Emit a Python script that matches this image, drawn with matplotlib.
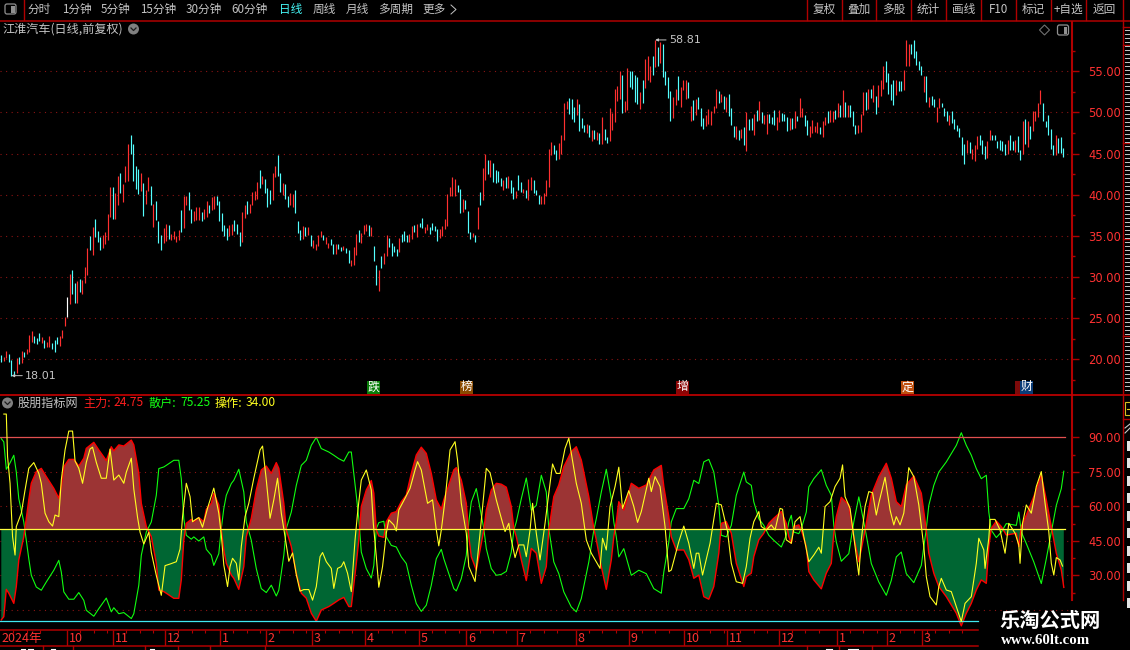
import matplotlib
matplotlib.use("Agg")
import matplotlib.pyplot as plt
from matplotlib.patches import Rectangle, Circle, Polygon, FancyBboxPatch

plt.rcParams['font.family'] = ['Noto Sans CJK SC', 'DejaVu Sans']

W, H = 1130, 650

# --- daily bars (high / low / direction: r up, c down, w flat) ---
bar_high = [
    20.5,20.3,21.0,20.6,19.9,18.6,20.1,20.3,21.0,20.9, 21.2,23.0,23.4,22.8,22.6,23.2,22.7,22.4,22.1,22.8,
    22.0,22.3,22.7,22.8,23.5,25.1,27.6,30.4,30.9,29.3, 29.5,29.7,29.6,31.2,33.5,35.0,36.1,37.1,35.6,34.9,
    35.1,35.5,37.7,40.9,40.9,40.2,42.3,42.6,41.3,43.5, 46.2,47.2,46.2,43.5,43.1,42.6,41.4,40.6,42.1,41.1,
    38.9,39.2,36.8,35.1,36.0,36.5,36.3,35.2,35.6,35.0, 35.7,38.1,39.8,39.8,40.3,38.3,38.0,38.5,38.5,37.9,
    38.3,39.2,38.7,39.7,39.9,39.8,39.2,37.8,36.3,36.0, 36.3,36.5,36.9,36.4,35.5,37.9,38.7,39.2,38.9,40.3,
    40.4,41.5,43.0,42.3,41.9,40.8,40.6,42.6,43.5,44.8, 42.6,41.4,41.3,39.9,40.2,40.1,40.6,36.8,35.7,36.2,
    36.1,36.1,35.1,34.5,34.0,35.1,35.6,35.1,34.9,34.1, 34.6,34.0,34.0,34.0,33.6,33.8,33.5,33.3,32.1,33.6,
    35.2,35.7,35.4,36.3,36.5,36.3,36.1,33.8,31.5,30.9,
    32.6,32.9,35.1,34.7,34.1,33.8,33.4,34.7,35.2,35.6, 35.1,35.2,36.2,36.3,36.5,36.6,37.2,36.1,36.4,36.1,
    36.6,36.2,35.8,35.8,36.2,37.1,40.1,40.9,42.1,41.9, 41.2,40.7,39.5,39.4,38.0,35.5,35.3,35.1,38.5,40.3,
    43.2,45.0,44.2,44.2,43.8,43.0,42.9,42.0,41.8,42.1, 42.3,41.8,40.9,40.4,42.4,41.5,40.7,40.6,41.9,42.1,
    41.8,40.6,40.0,39.8,40.2,41.8,45.5,46.4,46.0,45.4, 46.3,47.2,51.1,51.4,51.7,51.6,50.6,51.6,51.0,49.3,
    48.5,48.6,48.5,47.9,47.9,47.6,47.5,49.4,48.0,47.0, 50.5,49.9,52.9,53.2,55.0,54.5,51.4,55.4,55.0,55.0,
    54.5,54.3,52.5,53.9,56.5,56.8,55.6,56.8,58.81,57.9, 58.5,58.3,55.0,54.3,52.6,51.9,52.9,54.4,53.1,54.0,
    53.9,53.7,50.8,51.5,51.6,51.9,50.5,49.3,49.7,50.4, 50.2,50.8,52.9,52.6,52.2,52.0,51.9,52.3,50.5,48.3,
    48.3,47.9,
    48.0,48.2,50.0,49.2,49.3,49.8,50.3,51.4,50.0,49.7, 49.8,49.8,49.5,50.3,49.4,50.3,49.9,49.8,49.4,49.3,
    49.3,50.2,49.6,51.7,50.5,49.7,49.1,48.3,49.1,48.3, 48.8,48.2,49.0,49.4,50.2,50.3,50.2,50.3,51.1,50.9,
    52.7,51.3,50.9,50.9,50.2,48.5,48.5,49.8,52.5,52.5, 52.8,52.9,53.3,52.0,53.3,54.0,55.6,56.3,54.8,53.4,
    54.0,53.9,53.8,53.8,55.2,58.8,58.3,58.3,58.8,57.5, 56.3,55.6,54.4,54.4,51.9,52.0,51.6,50.6,51.8,51.2,
    50.5,50.2,49.7,50.2,49.2,48.5,48.1,47.0,46.2,46.6, 46.4,45.5,46.0,47.1,47.2,46.6,45.9,46.5,47.9,47.2,
    47.2,46.5,46.6,46.5,46.2,46.6,47.3,46.5,46.7,47.1, 45.4,49.0,49.2,48.9,48.4,50.2,50.2,51.2,52.7,51.2,
    49.0,49.7,48.0,46.1,47.3,46.9,47.0,45.7,
]
bar_low = [
    19.7,19.8,20.2,19.7,18.01,18.1,18.3,19.4,19.5,20.3, 20.6,20.9,22.1,22.0,21.9,22.2,22.0,21.4,21.5,21.5,
    21.2,20.9,21.9,21.6,22.6,24.1,25.1,26.7,27.9,26.9, 26.9,28.2,27.9,29.3,30.3,33.3,32.7,34.8,34.3,33.3,
    33.5,34.0,34.5,37.3,37.0,37.1,38.8,40.2,39.1,41.6, 41.7,44.9,41.7,40.7,40.1,40.4,37.4,38.9,40.4,38.8,
    36.1,36.9,34.1,33.3,34.1,34.4,34.6,34.5,34.6,34.3, 34.5,35.5,35.9,38.7,38.1,36.6,36.8,36.9,36.9,36.8,
    37.1,37.3,37.8,38.1,38.3,38.7,36.8,35.6,35.0,34.5, 35.0,35.1,35.6,35.2,33.8,34.3,37.2,37.7,37.8,38.7,
    39.4,39.5,40.8,41.3,40.2,38.5,38.9,39.4,42.1,42.3, 40.3,40.0,39.5,38.5,38.7,38.5,37.8,35.3,34.5,34.6,
    35.0,35.1,33.8,33.5,33.3,33.8,34.9,34.5,34.0,33.5, 33.9,32.8,32.8,33.4,33.1,33.3,32.9,31.7,31.3,31.5,
    32.7,34.3,34.1,35.2,35.6,35.0,35.0,31.9,29.0,28.3,
    31.1,31.6,32.6,33.6,32.6,33.0,32.6,33.0,34.3,34.4, 34.3,34.2,34.6,35.5,34.9,36.1,35.9,35.4,35.7,35.2,
    35.7,35.6,34.4,34.7,35.0,35.8,36.2,39.8,39.8,39.9, 40.3,37.8,37.9,38.3,35.3,34.6,34.9,34.2,35.8,38.7,
    39.4,41.8,42.5,42.1,41.5,41.4,41.5,41.1,40.6,40.8, 40.8,40.2,39.5,39.6,40.6,40.3,40.2,39.6,39.4,40.6,
    40.2,40.0,38.9,38.9,38.9,39.8,40.9,44.8,44.9,44.2, 44.3,45.0,46.6,50.4,49.8,49.2,48.8,49.7,47.7,48.1,
    47.6,47.5,47.0,46.5,46.8,46.6,46.2,46.2,46.6,46.3, 46.5,47.9,48.8,51.4,51.6,49.9,50.0,50.3,53.1,52.8,
    51.3,51.0,50.4,51.2,53.0,53.9,53.7,54.5,55.5,55.7, 56.0,54.3,53.3,51.7,49.0,49.3,50.9,51.5,50.6,52.7,
    51.6,51.8,49.0,49.1,49.7,50.4,48.3,48.0,48.3,48.6, 48.5,49.9,50.5,51.2,51.3,50.4,50.0,49.6,48.5,47.0,
    46.8,46.6,
    46.9,46.1,45.3,47.9,47.9,47.2,49.0,49.1,48.7,48.6, 47.4,48.7,48.6,48.5,47.9,48.8,48.9,48.9,47.7,47.9,
    48.0,48.1,49.0,49.5,49.5,48.3,47.3,47.0,47.5,47.6, 47.5,47.4,47.0,48.5,48.7,48.8,48.8,49.2,49.5,49.5,
    49.5,49.5,49.5,49.5,48.3,47.4,47.5,47.6,49.7,50.3, 50.4,51.7,51.3,49.8,50.7,52.0,52.9,53.7,52.3,51.5,
    50.9,52.1,52.6,52.6,52.7,55.6,55.6,57.1,56.6,55.8, 55.1,54.6,52.5,51.3,50.6,50.9,50.7,48.8,50.5,50.6,
    49.6,48.9,48.5,48.7,48.0,47.7,47.0,44.8,43.7,45.1, 45.1,44.4,44.1,45.5,46.1,44.9,44.4,44.5,46.6,46.6,
    46.6,45.7,45.4,45.3,44.8,45.0,45.4,45.4,45.2,45.2, 44.2,45.0,46.2,45.8,46.8,47.7,49.0,49.5,51.0,49.0,
    48.2,47.3,45.5,44.8,44.8,45.1,45.1,44.6,
]
bar_dir = (
    "crrcccrcrc" "rrrcccrcrr" "cccrrrwrcc" "rcrrrcrccc" "rrrrcrrcrr" "rccccrcrrc" "rcccrrcrrr" "rcrrccrrrc"
    "rrcrrccccc" "rrcccrrcrr" "rrcrcccrrc" "crccrrcccr" "crcrrrrcrr" "ccrccrccrr" "rcrrrcrccr"
    "crrccccrcc" "crrcrccrrc" "cccrrrrrrr" "ccrcccrcrc" "rrcrccccrc" "rccrccrcrr" "cccrrrrrcc" "rrrrcccrcc"
    "crcrcrcrcc" "rrrrrcrrcc" "ccrcrrrcrc" "rccccrrcrr" "rcrcrcccrr" "rrrcrcrccc" "rc"
    "rcrccrcrcr" "rcccrrcccr" "crcrrccrrr" "rcrrcrrcrc" "rcrcccrrrc" "rcrcrrrccc" "crccrrrccc" "ccrcrccrrc"
    "ccrccccccr" "crrrcccrrc" "cccccrccrc" "crcrcrrrrc" "ccccrccc"
)

# --- month marks on the time axis ---
month_labels = ['2024年', '10', '11', '12', '1', '2', '3', '4', '5', '6', '7', '8', '9', '10', '11', '12', '1', '2', '3']
month_bars = [-0.5, 26.3, 44.7, 65.5, 87.5, 105.9, 124.3, 145.5, 167, 186, 206.3, 229.8, 251, 273, 290.3, 311, 334.2, 354.3, 368.3]

# --- event flags above the indicator ---
event_labels = ['跌', '榜', '增', '定', '财', '财']
event_bars = [148.9, 186.1, 272.5, 362.5, 408.1, 410.1]
event_colors = ['#0a7d0a', '#8a4a00', '#8c0505', '#c0500f', '#7d0a0a', '#0a3c78']

# --- indicator: 主力 and 散户 share the same bars ---
main_x = [0,1,2,3,4,5,6,7,9,10,11,12,14,16,18,21,23,24,25,27,29,31,33,34,37,39,42,44,45,47,49,52,53,55,56,58,60,62,63,65,66,69,71,72,73,74,76,77,79,81,82,84,85,87,88,89,90,92,93,95,97,98,100,102,104,106,108,110,111,113,114,116,118,120,122,124,126,128,131,133,135,137,139,140,142,143,144,146,148,149,150,151,153,154,156,158,160,162,164,166,168,170,172,174,176,177,179,181,182,184,186,187,188,190,191,193,194,196,198,200,202,204,205,206,208,210,212,214,216,218,219,221,223,225,228,230,232,235,237,238,240,242,244,245,246,247,249,252,255,258,261,264,265,267,268,270,273,275,277,279,281,283,285,287,288,290,292,294,297,298,300,301,303,305,307,309,312,314,315,316,317,319,320,322,323,325,328,330,332,333,334,336,339,341,343,345,346,348,351,354,356,358,360,362,365,368,370,371,373,375,378,382,384,386,388,390,392,394,395,396,398,400,402,406,407,408,410,413,416,418,420,422,424,425]
main_val = [10.6,12.0,23.9,22.2,20.0,17.8,25.1,36.7,46.8,54.8,62.8,70.0,75.1,76.5,72.9,67.8,63.5,68.6,77.2,80.4,80.4,77.5,80.9,85.2,87.8,84.5,79.9,85.9,84.1,86.7,86.2,88.8,86.7,74.3,61.3,51.2,46.8,35.2,23.6,22.9,22.2,20.0,20.0,28.0,45.4,52.6,54.3,53.3,55.1,53.3,58.7,61.3,65.7,60.6,49.7,41.0,35.2,30.1,28.7,23.9,33.8,46.8,54.8,67.1,75.8,77.5,74.3,79.0,76.5,61.3,49.7,42.5,30.9,22.2,20.0,13.5,10.0,14.9,16.4,17.8,19.3,20.4,16.4,16.4,35.2,45.4,59.9,67.1,71.2,65.7,49.7,47.1,46.5,53.3,57.0,57.7,62.0,64.9,74.3,82.3,85.7,83.0,74.3,62.8,58.7,62.8,69.3,75.8,76.8,71.4,61.3,46.8,38.1,32.3,38.1,49.7,58.4,67.1,70.0,69.6,68.3,59.9,50.4,46.8,36.7,27.7,41.7,39.6,26.5,33.8,49.7,64.2,69.3,77.2,83.8,85.9,80.1,64.2,50.4,45.4,33.8,23.9,36.7,46.8,53.3,62.0,58.4,70.0,67.8,69.3,75.8,77.8,68.6,55.5,46.8,41.0,41.0,36.7,28.7,30.1,20.7,19.6,25.1,39.6,52.6,53.3,48.3,35.2,25.1,29.4,30.9,38.1,45.4,48.3,52.6,54.8,57.7,52.6,46.8,43.9,51.2,51.9,49.7,42.5,31.6,28.0,24.1,30.9,35.2,48.3,55.5,63.9,60.6,46.8,35.9,46.8,52.6,64.9,72.9,78.7,72.2,62.0,59.9,69.3,73.2,65.7,49.7,39.6,30.9,25.1,20.7,13.5,8.0,13.5,17.8,23.6,28.0,26.5,42.5,50.4,53.6,51.2,47.5,48.3,42.5,51.2,56.2,64.2,73.6,62.8,51.2,39.6,32.3,24.75]
retail_val = [89.4,88.0,76.1,77.8,80.0,82.2,74.9,63.3,53.2,45.2,37.2,30.0,24.9,23.5,27.1,32.2,36.5,31.4,22.8,19.6,19.6,22.5,19.1,14.8,12.2,15.5,20.1,14.1,15.9,13.3,13.8,11.2,13.3,25.7,38.7,48.8,53.2,64.8,76.4,77.1,77.8,80.0,80.0,72.0,54.6,47.4,45.7,46.7,44.9,46.7,41.3,38.7,34.3,39.4,50.3,59.0,64.8,69.9,71.3,76.1,66.2,53.2,45.2,32.9,24.2,22.5,25.7,21.0,23.5,38.7,50.3,57.5,69.1,77.8,80.0,86.5,90.0,85.1,83.6,82.2,80.7,79.6,83.6,83.6,64.8,54.6,40.1,32.9,28.8,34.3,50.3,52.9,53.5,46.7,43.0,42.3,38.0,35.1,25.7,17.7,14.3,17.0,25.7,37.2,41.3,37.2,30.7,24.2,23.2,28.6,38.7,53.2,61.9,67.7,61.9,50.3,41.6,32.9,30.0,30.4,31.7,40.1,49.6,53.2,63.3,72.3,58.3,60.4,73.5,66.2,50.3,35.8,30.7,22.8,16.2,14.1,19.9,35.8,49.6,54.6,66.2,76.1,63.3,53.2,46.7,38.0,41.6,30.0,32.2,30.7,24.2,22.2,31.4,44.5,53.2,59.0,59.0,63.3,71.3,69.9,79.3,80.4,74.9,60.4,47.4,46.7,51.7,64.8,74.9,70.6,69.1,61.9,54.6,51.7,47.4,45.2,42.3,47.4,53.2,56.1,48.8,48.1,50.3,57.5,68.4,72.0,75.9,69.1,64.8,51.7,44.5,36.1,39.4,53.2,64.1,53.2,47.4,35.1,27.1,21.3,27.8,38.0,40.1,30.7,26.8,34.3,50.3,60.4,69.1,74.9,79.3,86.5,92.0,86.5,82.2,76.4,72.0,73.5,57.5,49.6,46.4,48.8,52.5,51.7,57.5,48.8,43.8,35.8,26.4,37.2,48.8,60.4,67.7,75.25]

# --- indicator: 操作 line, its turning points ---
oper_x = [1,2,2.5,3.5,4.5,5.5,6,8,9.5,11,13,15,16,17.5,19,20.5,21.5,23,24,25.5,27,28.5,29.5,31,32.5,34,35.5,36.5,38,40,42,43.5,45,47,49,50,52,53,54.5,55.5,57,59,60,62,64,65.5,67.5,70,71.5,72.5,74,75.5,76.5,77.5,79,80.5,82.5,85,87,88,89,90.5,91.5,92.5,94,95,96,97.5,99,101,103.5,104.5,106,107.5,109,110.5,112,113.5,115,116.5,118,119.5,121,123,124.5,126,127.5,128.5,130,132,133,134.5,136,137,138.5,140,141.5,142.5,144,146,148,148.8,150,151,152.5,154,155,157,158,159,161.5,163.5,165.5,166.5,168,170.5,172.5,174,175,176,177.5,179.5,181.5,182.5,184,186,187,189.5,191.5,194,195.5,198,200,201.5,203,204,205.5,207,209,210,211.5,212.5,214,215.5,217.5,219,220.5,222,223.5,225.5,227,229,230,232,234,236,239.5,240.5,242,243.5,245.5,247,248.5,251,253,254.5,256,259,260,261.5,263.5,265.5,267,268,271,273,275,277,278,279,280.5,283.5,286,288,290.5,292,294,296.5,298,299.5,301,303,304,306,308,309.5,311.5,312.5,314,316,317.5,319.5,321,323,325,327,328,329.5,331.5,333.5,335.5,336.5,337.5,339.5,341,343,344,345.5,347,348.5,350,351,353.5,355.5,357,358,359.5,361,363,365,367,369,370,371.5,374,375,376,378,380,382,384,385.5,388,390,391,393,393.5,395,395.5,397.5,399.5,401.5,403,405.5,407,407.5,408.5,410,412,414,416,417.5,419,420,421,422,423.5,424.5]
oper_val = [100.1,100.1,81.6,70.0,46.8,38.8,51.2,57.0,67.1,76.5,79.0,74.3,70.0,57.0,53.3,51.4,56.2,55.5,71.4,84.5,92.7,92.7,79.7,76.5,70.0,79.1,84.9,85.7,79.1,72.2,72.2,84.9,71.4,73.6,70.0,74.8,80.9,67.5,55.2,48.7,43.6,48.7,40.0,29.9,21.3,34.2,34.9,35.9,41.4,55.5,70.0,64.2,53.3,54.1,55.1,50.9,59.2,67.9,57.0,47.5,34.5,25.1,33.8,37.4,35.2,28.0,42.5,55.5,61.3,72.2,84.5,86.2,71.4,54.8,62.8,72.2,57.0,46.8,36.1,39.7,30.3,23.1,23.8,23.8,19.2,25.1,38.1,39.9,35.9,33.0,24.3,33.0,33.8,35.9,30.9,22.9,45.4,57.0,71.4,75.8,67.1,52.6,38.1,24.8,33.8,48.3,54.1,51.9,49.3,58.4,63.5,67.8,75.8,79.4,75.8,61.3,62.8,49.7,42.8,49.7,62.8,84.5,88.1,80.1,61.3,48.3,33.8,27.3,48.3,76.5,74.6,62.8,54.8,49.0,52.6,45.4,37.7,43.2,43.2,38.1,49.7,61.3,48.3,36.7,52.6,65.7,78.4,74.3,74.3,85.2,89.6,76.5,70.0,61.3,45.4,39.6,33.0,46.1,41.0,59.9,68.6,77.0,59.1,66.8,59.9,53.0,57.7,72.2,66.4,72.9,68.6,51.2,31.6,32.3,44.6,51.4,43.9,33.0,39.6,39.6,30.1,43.9,61.3,60.6,49.0,35.2,27.2,26.5,33.8,46.1,53.3,57.7,51.2,49.7,51.9,49.7,59.1,58.7,45.4,43.9,53.3,55.5,46.8,35.9,38.8,42.2,39.6,59.9,62.0,68.6,72.2,78.0,64.2,59.1,46.8,30.1,45.4,59.9,66.4,65.9,56.2,61.3,72.6,58.4,51.9,55.5,51.9,57.0,76.8,72.9,60.6,42.5,29.4,20.7,17.1,25.1,28.7,23.6,22.9,16.4,9.9,17.8,20.7,35.2,46.1,41.0,33.0,46.1,54.3,54.3,49.7,39.6,52.6,48.3,43.2,35.2,52.6,60.6,57.0,68.6,75.1,61.3,49.0,35.2,30.1,37.7,36.7,34.0]

price_ticks = [55, 50, 45, 40, 35, 30, 25, 20]
price_minor = [57.5, 52.5, 47.5, 42.5, 37.5, 32.5, 27.5, 22.5, 17.5]
ind_ticks = [90, 75, 60, 45, 30]
ind_dots = [75, 60, 45, 30, 15]
ind_minor = [82.5, 67.5, 52.5, 37.5, 22.5]

left_tabs = ['分时', '1分钟', '5分钟', '15分钟', '30分钟', '60分钟', '日线', '周线', '月线', '多周期', '更多']
left_tab_px = [39.5, 76.5, 115.5, 158, 204, 250, 290.5, 324, 357.5, 396, 434.5]
right_tabs = ['复权', '叠加', '多股', '统计', '画线', 'F10', '标记', '+自选', '返回']
right_tab_px = [824.5, 859, 893.5, 928.5, 963.5, 998.5, 1033.5, 1068.5, 1104.5]
right_seps = [807, 842, 876, 911, 946, 981, 1016, 1051, 1086, 1123]

RED = '#ff3232'
LINE = '#b00000'
GRID = '#8c1414'
GREY = '#c4c4c4'


def px_axes(x0, y0, x1, y1, **kw):
    return fig.add_axes([x0 / W, 1 - y1 / H, (x1 - x0) / W, (y1 - y0) / H], **kw)


def bar_at(px):
    return (px - 1.3) / 2.5


fig = plt.figure(figsize=(W / 100, H / 100), dpi=100, facecolor='black')

# --- price panel ---
ax = px_axes(0, 22, 1072, 394, facecolor='black')
bar_step = (1063.3 - 1.3) / (len(bar_high) - 1)
ax.set_xlim(-1.3 / bar_step, (1072 - 1.3) / bar_step)
ax.set_ylim(15.78, 60.99)
bar_colors = {'r': '#ff3030', 'c': '#54ffff', 'w': '#ffffff'}
ax.vlines(range(len(bar_high)), bar_low, bar_high, colors=[bar_colors[d] for d in bar_dir], lw=0.85)
xl = ax.get_xlim()
for t in price_ticks:
    ax.plot(xl, [t, t], color=GRID, lw=0.8, ls=(0, (1, 4)), zorder=0)
# labels on the lowest low and the first top
low_i = bar_low.index(min(bar_low))
top_i = bar_high.index(max(bar_high))
for i, v in [(low_i, bar_low[low_i]), (top_i, bar_high[top_i])]:
    ax.annotate('%.2f' % v, xy=(i, v), xytext=(9.8, 0), textcoords='offset points', color=GREY, fontsize=8.0,
                va='center', family='DejaVu Sans',
                arrowprops=dict(arrowstyle='-|>,head_width=0.1,head_length=0.2', color=GREY, lw=0.7, shrinkA=0, shrinkB=0))

# --- indicator panel ---
ax2 = px_axes(0, 395, 1072, 629, facecolor='black')
ax2.set_xlim(bar_at(0), bar_at(1072))
ax2.set_ylim(6.65, 108.39)
ax2.fill_between(main_x, main_val, 50, where=[v >= 50 for v in main_val], interpolate=True, color='#9c3434', lw=0, zorder=1)
ax2.fill_between(main_x, main_val, 50, where=[v <= 50 for v in main_val], interpolate=True, color='#006633', lw=0, zorder=1)
for t in ind_dots:
    ax2.plot([bar_at(0), bar_at(1072)], [t, t], color=GRID, lw=0.8, ls=(0, (1, 4)), zorder=0)
ax2.plot(main_x, retail_val, color='#10ff10', lw=0.8, zorder=3)
ax2.plot(main_x, main_val, color='#ff0000', lw=1.0, zorder=3)
ax2.plot([bar_at(0), bar_at(1065)], [90, 90], color='#e25050', lw=0.9, zorder=4)
ax2.plot([bar_at(0), bar_at(1065)], [50, 50], color='#ffff40', lw=0.9, zorder=4)
ax2.plot([bar_at(0), bar_at(978)], [10, 10], color='#40e8f0', lw=0.9, zorder=4)
ax2.plot(oper_x, oper_val, color='#ffff20', lw=0.8, zorder=5)

for a, majors, minors in [(ax, price_ticks, price_minor), (ax2, ind_ticks, ind_minor)]:
    a.set_xticks([])
    a.yaxis.tick_right()
    a.set_yticks(majors)
    a.set_yticklabels(['{:.2f}'.format(t) for t in majors], family='DejaVu Sans')
    a.set_yticks(minors, minor=True)
    a.tick_params(axis='y', which='major', length=5, width=1, color=LINE, labelcolor=RED, labelsize=8.3, pad=6.5)
    a.tick_params(axis='y', which='minor', length=2.2, width=1, color=LINE)
    for s in ['top', 'left', 'bottom']:
        a.spines[s].set_visible(False)
    a.spines['right'].set_color(LINE)
    a.spines['right'].set_linewidth(1.5)
ax2.spines['right'].set_bounds(19.3, 108.39)

# --- time axis ---
ax3 = px_axes(0, 630, 978, 646, facecolor='black')
ax3.set_xlim(bar_at(0), bar_at(978))
ax3.set_ylim(1, 0)
ax3.set_xticks([])
ax3.set_yticks([])
for s in ['left', 'right']:
    ax3.spines[s].set_visible(False)
for s in ['top', 'bottom']:
    ax3.spines[s].set_color(LINE)
    ax3.spines[s].set_linewidth(1.1)
ax3.vlines(month_bars[1:], 0, 1, color=LINE, lw=1.0)
week_ticks = [b + k * 5.3 for b in month_bars for k in range(1, 4)]
ax3.vlines(week_ticks, 0, 0.2, color=LINE, lw=0.8)
for b, lab in zip(month_bars, month_labels):
    ax3.text(b + 0.7, 0.54, lab, color=RED, fontsize=9, va='center', ha='left')

# --- interface layer in pixel coordinates ---
ui = fig.add_axes([0, 0, 1, 1], facecolor='none')
ui.set_xlim(0, W)
ui.set_ylim(H, 0)
ui.axis('off')

ui.plot([0, W], [20.5, 20.5], color=LINE, lw=1.1)
ui.plot([0, W], [394.5, 394.5], color='#c80000', lw=1.2)
ui.plot([23.5, 23.5], [0, 20], color=LINE, lw=1.0)
for x in right_seps:
    ui.plot([x, x], [0, 20], color=LINE, lw=1.0)
ui.plot([1123, 1123], [20, 600], color=LINE, lw=1.0)
for y in [27, 45, 143, 239, 336, 419]:
    ui.plot([1123, W], [y, y], color=LINE, lw=1.0)

for x, lab in zip(left_tab_px, left_tabs):
    ui.text(x, 9.5, lab, color='#45f5f5' if lab == '日线' else GREY, fontsize=8.4, ha='center', va='center')
ui.plot([451, 456, 451], [5, 9.5, 14], color=GREY, lw=0.7)
for x, lab in zip(right_tab_px, right_tabs):
    ui.text(x, 9.5, lab, color=GREY, fontsize=8.4, ha='center', va='center')

# small icons
for x0, y0 in [(5, 4), (1057.5, 25)]:
    ui.add_patch(FancyBboxPatch((x0, y0), 11, 10, boxstyle='round,pad=0,rounding_size=2', fc='none', ec='#909090', lw=0.9))
    ui.add_patch(Rectangle((x0 + 6, y0 + 1.5), 3.5, 7, fc='#909090', ec='none'))
ui.add_patch(Polygon([(1044.5, 25), (1049.5, 30), (1044.5, 35), (1039.5, 30)], closed=True, fc='none', ec='#707070', lw=0.8))
for cx, cy in [(133.5, 29), (7.5, 403)]:
    ui.add_patch(Circle((cx, cy), 5.5, fc='#808080', ec='none'))
    ui.plot([cx - 2.5, cx, cx + 2.5], [cy - 1, cy + 1.5, cy - 1], color='#1c1c1c', lw=0.9)

ui.text(2, 29, '江淮汽车(日线,前复权)', color=GREY, fontsize=8.7, ha='left', va='center')
legend_x = [18, 83, 113, 149, 180, 215, 246]
legend_txt = ['股朋指标网', '主力:', '24.75', '散户:', '75.25', '操作:', '34.00']
legend_col = [GREY, '#ff1e1e', '#ff1e1e', '#14ff14', '#14ff14', '#ffff20', '#ffff20']
for x, s, c in zip(legend_x, legend_txt, legend_col):
    ui.text(x, 403, s, color=c, fontsize=8.7, ha='left', va='center')

# event flags
for b, lab, c in zip(event_bars[:4], event_labels[:4], event_colors[:4]):
    x = 1.3 + 2.5 * b
    ui.add_patch(Rectangle((x - 6.5, 380.5), 13, 13, fc=c, ec='none'))
    ui.text(x, 386.8, lab, color='white', fontsize=8.6, ha='center', va='center')
# last flag: two boxes on top of each other, one glyph shows
for b, c in zip(event_bars[4:], event_colors[4:]):
    ui.add_patch(Rectangle((1.3 + 2.5 * b - 6.5, 380.5), 13, 13, fc=c, ec='none'))
ui.text(1.3 + 2.5 * event_bars[5], 386.8, event_labels[5], color='white', fontsize=8.6, ha='center', va='center')

# side panel, only slivers of it are inside the picture
for k, y in enumerate(range(30, 392, 4)):
    if y in (27, 45, 143, 239, 336):
        continue
    ui.plot([1125 + (k * 3) % 3, W], [y, y], color='#c8c8c8', lw=0.7)
ui.add_patch(Rectangle((1125, 402), 6, 13, fc='none', ec='#d8c020', lw=0.8))
ui.plot([1127, W], [408.5, 408.5], color='#e8d020', lw=0.8)
ui.plot([1125, 1130], [428, 424], color='#c8c8c8', lw=0.8)
ui.plot([1125, 1130], [433, 428], color='#c8c8c8', lw=0.8)
for y in [441, 458, 476, 493, 511, 528, 546, 563, 581, 598]:
    ui.add_patch(Rectangle((1127, y), 3, 10, fc='#e4e4e4', ec='none'))

# row cut off at the bottom edge
for x in [43, 73, 145, 178, 210, 265, 807, 839, 872]:
    ui.plot([x, x], [646, 650], color=LINE, lw=1.0)
for x0, x1 in [(21, 25), (28, 33), (51, 55), (150, 154), (826, 832), (848, 858)]:
    ui.plot([x0, x1], [649.2, 649.2], color='white', lw=0.8)

# watermark
ui.text(1050, 620, '乐淘公式网', color='white', fontsize=14.6, weight='bold', ha='center', va='center')
ui.text(1046, 640, 'www.60lt.com', color='white', fontsize=10.7, weight='bold', family='Liberation Serif', ha='center', va='center')

fig.savefig('out.png', dpi=100, facecolor='black')
